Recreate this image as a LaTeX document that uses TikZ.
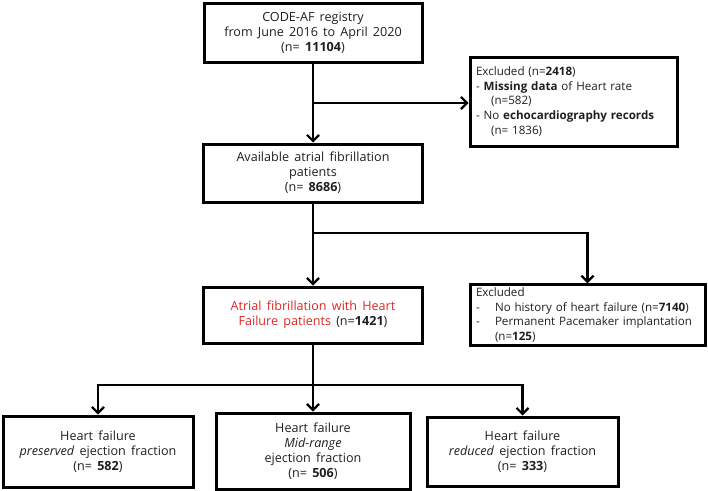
\documentclass[tikz,border=0pt]{standalone}
\usepackage{fontspec}
\setmainfont{Open Sans}[WordSpace=1.6]
\usetikzlibrary{arrows.meta}

\definecolor{hfred}{RGB}{220,40,36}
\definecolor{txt}{gray}{0.12}

\begin{document}
\begin{tikzpicture}[x=1pt,y=-1pt,
	box/.style={draw,line width=3pt,align=center,inner sep=3pt,text=txt,
		font=\fontsize{12.6}{15}\selectfont},
	lbox/.style={box,align=left,text width=#1,inner xsep=6pt,
		font=\fontsize{11.6}{14.6}\selectfont},
	arr/.style={line width=2.2pt,-{Straight Barb[length=6pt,width=12pt,line width=2.2pt]}}]
	
	\useasboundingbox (0,0) rectangle (708,490);
	
	\node [box,minimum width=218pt,minimum height=59pt] (reg) at (313,32.5) {CODE-AF registry\\from June 2016 to April 2020\\(n= \textbf{11104})};
	
	\node [lbox=195pt,minimum height=89pt] (exc1) at (573.5,101.5) {Excluded (n=\textbf{2418})\\- \textbf{Missing data} of Heart rate\\\hspace*{1.3em}(n=582)\\- No \textbf{echocardiography records}\\\hspace*{1.3em}(n= 1836)};
	
	\node [box,minimum width=219pt,minimum height=58pt] (avail) at (313,173) {Available atrial fibrillation\\patients\\(n= \textbf{8686})};
	
	\node [box,minimum width=219pt,minimum height=56pt] (hf) at (313,315) {\textcolor{hfred}{Atrial fibrillation with Heart}\\\textcolor{hfred}{Failure patients} (n=\textbf{1421})};
	
	\node [lbox=223pt,minimum height=60pt] (exc2) at (587.5,315) {Excluded\\\makebox[19pt][l]{-}No history of heart failure (n=\textbf{7140})\\\makebox[19pt][l]{-}Permanent Pacemaker implantation\\\hspace*{19pt}(n=\textbf{125})};
	
	\node [box,minimum width=190pt,minimum height=71pt] (pef) at (98,451.5) {Heart failure\\\textit{preserved} ejection fraction\\(n= \textbf{582})};
	
	\node [box,minimum width=194pt,minimum height=76pt] (mef) at (313,451) {Heart failure\\\textit{Mid-range}\\ejection fraction\\(n= \textbf{506})};
	
	\node [box,minimum width=191pt,minimum height=69pt] (ref) at (522.5,451.5) {Heart failure\\\textit{reduced} ejection fraction\\(n= \textbf{333})};
	
	% junctions on the main line
	\coordinate (j1) at (313,103);
	\coordinate (j2) at (313,233);
	\coordinate (j3) at (313,385);
	
	\draw [arr] (reg.south) -- (avail.north);
	\draw [arr] (j1) -- (j1 -| exc1.west);
	
	\draw [arr] (avail.south) -- (hf.north);
	\draw [arr] (j2) -| (exc2.north);
	
	\draw [arr] (hf.south) -- (mef.north);
	\draw [arr] (j3) -| (pef.north);
	\draw [arr] (j3) -| (ref.north);
	
\end{tikzpicture}
\end{document}
